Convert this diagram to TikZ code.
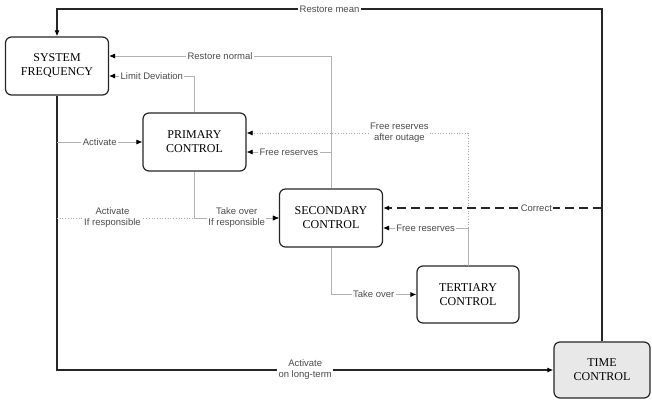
\documentclass[tikz,border=0pt]{standalone}
\usepackage{fontspec}
\setmainfont{Liberation Serif}
\newfontfamily\lblfont{Liberation Sans}
\usetikzlibrary{positioning}
\usetikzlibrary{arrows.meta}
\usetikzlibrary{calc}

\begin{document}
\begin{tikzpicture}[x=1pt, y=-1pt,
    block/.style={align=center, rectangle, rounded corners=6pt, draw=black!85, line width=1.2pt, fill=white, minimum width=103pt, minimum height=58pt, font=\fontsize{12}{14}\selectfont},
    lbl/.style={fill=white, inner sep=1.5pt, font=\lblfont\fontsize{9.5}{11}\selectfont, text=black!70, align=center},
    main/.style={draw=black!85, line width=1.6pt},
    soft/.style={draw=black!30, line width=0.7pt},
    dots/.style={draw=black!35, line width=0.7pt, dotted},
    tip/.style={-{Latex[length=6pt, width=5pt, color=black]}}
]
    \useasboundingbox (0,0) rectangle (652,401);

    % Boxes
    \node[block] (SF) at (57,66) {SYSTEM\\FREQUENCY};
    \node[block] (PC) at (194.5,142) {PRIMARY\\CONTROL};
    \node[block] (SC) at (331,218) {SECONDARY\\CONTROL};
    \node[block, minimum width=102pt, minimum height=57pt] (TC) at (468,294.5) {TERTIARY\\CONTROL};
    \node[block, fill=black!9, minimum width=96pt, minimum height=56pt] (TM) at (602,370) {TIME\\CONTROL};

    % Levels of the horizontal runs
    \coordinate (Ytop) at (0,9);
    \coordinate (Ynorm) at (0,56);
    \coordinate (Ylim) at (0,76);
    \coordinate (Yout) at (0,133);
    \coordinate (Yfree) at (0,152);
    \coordinate (Ycor) at (0,208);
    \coordinate (Yfree2) at (0,228);

    % Restore mean
    \draw[main, tip] (TM.north) -- (TM.north |- Ytop) -- node[lbl] {Restore mean} (SF.north |- Ytop) -- (SF.north);

    % Back to system frequency
    \draw[soft, tip] (SC.north) -- (SC.north |- Ynorm) -- node[lbl] {Restore normal} (SF.east |- Ynorm);
    \draw[soft, tip] (PC.north) -- (PC.north |- Ylim) -- node[lbl] {Limit Deviation} (SF.east |- Ylim);

    % Activation trunk
    \draw[main, tip] (SF.south) |- node[lbl, pos=0.75] {Activate\\on long-term} (TM.west);
    \draw[soft, tip] (SF.south |- PC.west) -- node[lbl] {Activate} (PC.west);
    \draw[dots, tip] (SF.south |- SC.west) -- node[lbl, pos=0.25] {Activate\\If responsible} (SC.west);
    \draw[soft, tip] (PC.south) |- node[lbl, pos=0.75] {Take over\\If responsible} (SC.west);

    % Reserves
    \draw[soft, tip] (SC.north |- Yfree) -- node[lbl] {Free reserves} (PC.east |- Yfree);
    \draw[dots, tip] (TC.north) |- node[lbl, pos=0.655] {Free reserves\\after outage} (PC.east |- Yout);
    \draw[soft, tip] (TC.north) |- node[lbl, pos=0.75] {Free reserves} (SC.east |- Yfree2);
    \draw[soft, tip] (SC.south) |- node[lbl, pos=0.75] {Take over} (TC.west);

    % Correct
    \draw[main, dash pattern=on 9pt off 5pt, tip] (TM.north |- Ycor) -- node[lbl, pos=0.3] {Correct} (SC.east |- Ycor);
\end{tikzpicture}
\end{document}
